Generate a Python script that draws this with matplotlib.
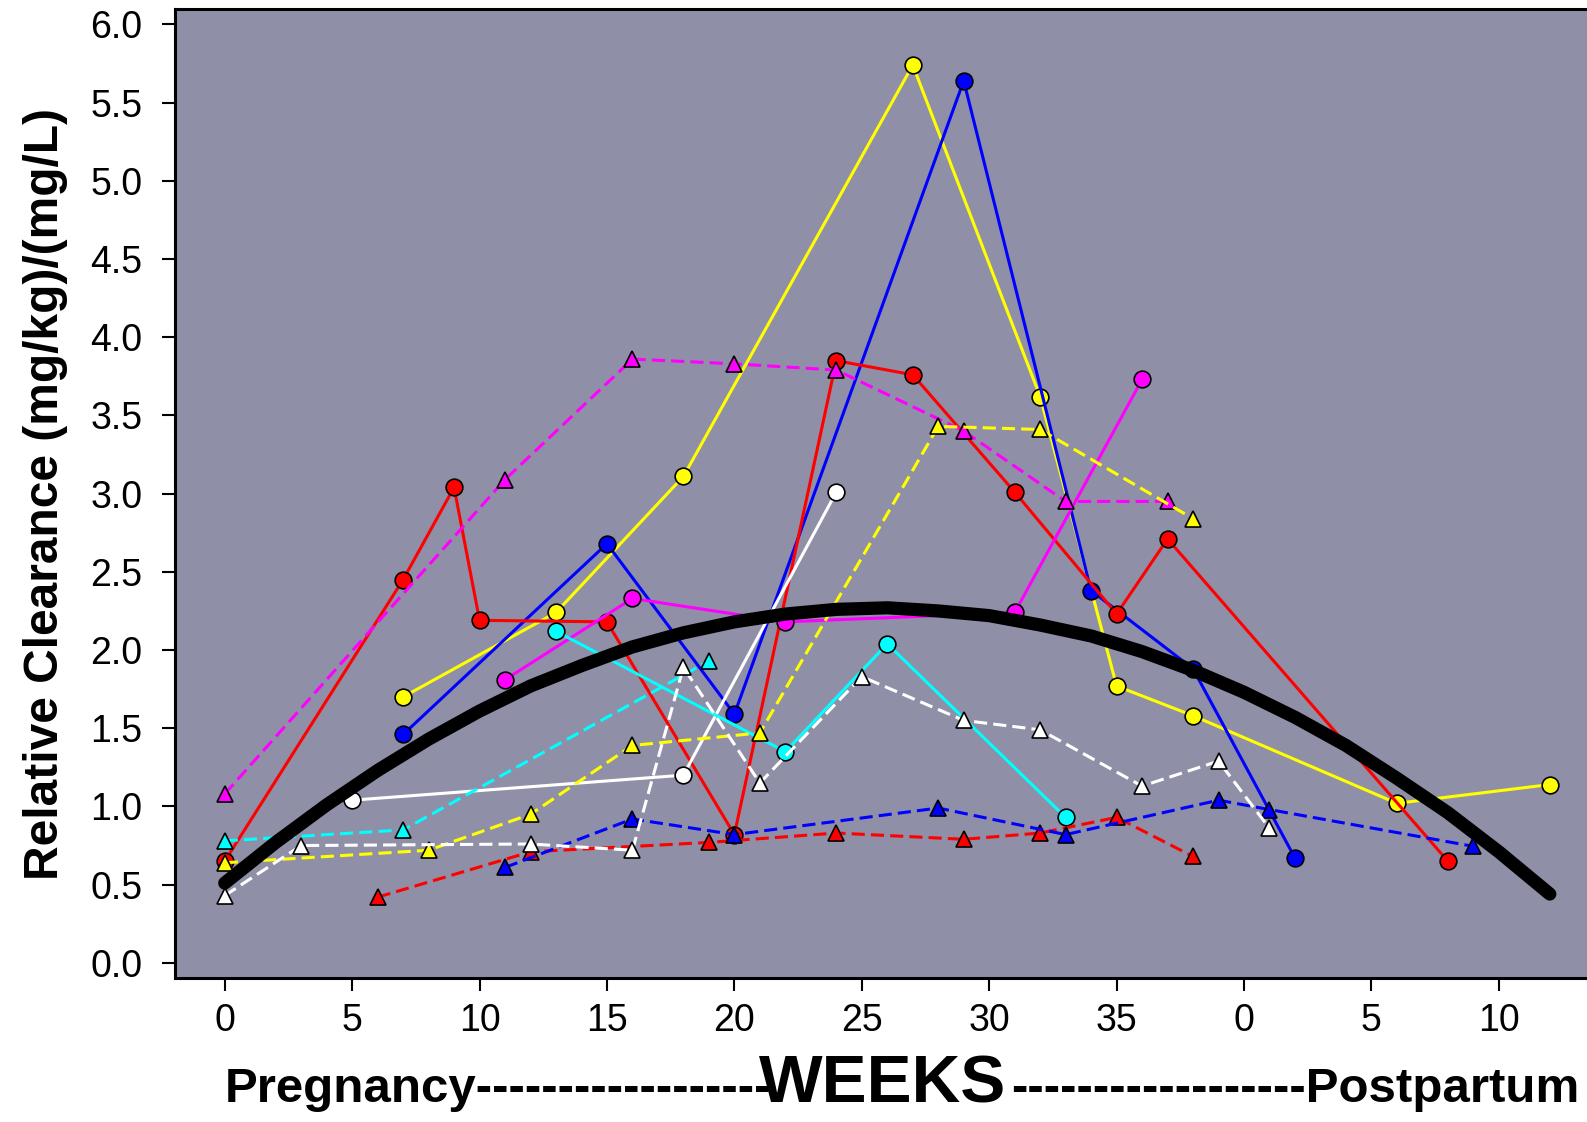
import matplotlib
matplotlib.use("Agg")
import matplotlib.pyplot as plt

plt.rcParams['font.family'] = ['Liberation Sans', 'DejaVu Sans']

# weeks: 0-38 pregnancy, 40+ = postpartum (0, 5, 10 ...)
yel_c_x = [7, 13, 18, 27, 32, 35, 38, 46, 52]
yel_c_y = [1.70, 2.24, 3.11, 5.74, 3.62, 1.77, 1.58, 1.02, 1.14]
blu_c_x = [7, 15, 20, 29, 34, 38, 42]
blu_c_y = [1.46, 2.68, 1.59, 5.64, 2.38, 1.88, 0.67]
red_c_x = [0, 7, 9, 10, 15, 20, 24, 27, 31, 35, 37, 48]
red_c_y = [0.65, 2.45, 3.04, 2.19, 2.18, 0.82, 3.85, 3.76, 3.01, 2.23, 2.71, 0.65]
mag_c_x = [11, 16, 22, 31, 36]
mag_c_y = [1.81, 2.33, 2.18, 2.24, 3.73]
wht_c_x = [5, 18, 24]
wht_c_y = [1.04, 1.20, 3.01]
cyn_c_x = [13, 22, 26, 33]
cyn_c_y = [2.12, 1.35, 2.04, 0.93]

red_t_x = [6, 12, 19, 24, 29, 32, 35, 38]
red_t_y = [0.42, 0.71, 0.77, 0.83, 0.79, 0.83, 0.93, 0.68]
blu_t_x = [11, 16, 20, 28, 33, 39, 41, 49]
blu_t_y = [0.61, 0.92, 0.82, 0.99, 0.82, 1.04, 0.98, 0.745]
mag_t_x = [0, 11, 16, 20, 24, 29, 33, 37]
mag_t_y = [1.08, 3.09, 3.86, 3.83, 3.79, 3.40, 2.95, 2.95]
yel_t_x = [0, 8, 12, 16, 21, 28, 32, 38]
yel_t_y = [0.64, 0.72, 0.95, 1.39, 1.47, 3.43, 3.41, 2.84]
cyn_t_x = [0, 7, 19]
cyn_t_y = [0.78, 0.85, 1.93]
wht_t_x = [0, 3, 12, 16, 18, 21, 25, 29, 32, 36, 39, 41]
wht_t_y = [0.43, 0.75, 0.76, 0.72, 1.89, 1.15, 1.83, 1.55, 1.49, 1.13, 1.29, 0.86]

# thick black trend curve, every 2 weeks
fit_x = [0, 2, 4, 6, 8, 10, 12, 14, 16, 18, 20, 22, 24, 26,
         28, 30, 32, 34, 36, 38, 40, 42, 44, 46, 48, 50, 52]
fit_y = [0.51, 0.77, 1.01, 1.23, 1.43, 1.61, 1.77, 1.90, 2.02, 2.11, 2.18, 2.23,
         2.26, 2.27, 2.25, 2.22, 2.16, 2.09, 1.99, 1.87, 1.73, 1.57, 1.39, 1.18,
         0.96, 0.71, 0.44]

xticks = [0, 5, 10, 15, 20, 25, 30, 35, 40, 45, 50]
xticklabels = ['0', '5', '10', '15', '20', '25', '30', '35', '0', '5', '10']
yticks = [0.0, 0.5, 1.0, 1.5, 2.0, 2.5, 3.0, 3.5, 4.0, 4.5, 5.0, 5.5, 6.0]

fig = plt.figure(figsize=(15.87, 11.22), dpi=100)
ax = fig.add_axes([0.1103, 0.1279, 0.8897, 0.8643])
ax.set_facecolor('#8f8fa7')

lw = 2.2
dash = (0, (4.3, 2.0))
circ = dict(marker='o', ms=12, mec='black', mew=1.2, lw=lw)
tri = dict(marker='^', ms=12, mec='black', mew=1.2, lw=lw, ls=dash)

ax.plot(yel_c_x, yel_c_y, color='#ffff00', mfc='#ffff00', **circ)
ax.plot(blu_c_x, blu_c_y, color='#0000ff', mfc='#0000ff', **circ)
ax.plot(red_c_x, red_c_y, color='#ff0000', mfc='#ff0000', **circ)
ax.plot(mag_c_x, mag_c_y, color='#ff00ff', mfc='#ff00ff', **circ)
ax.plot(wht_c_x, wht_c_y, color='white', mfc='white', **circ)
ax.plot(cyn_c_x, cyn_c_y, color='#00ffff', mfc='#00ffff', **circ)

ax.plot(red_t_x, red_t_y, color='#ff0000', mfc='#ff0000', **tri)
ax.plot(blu_t_x, blu_t_y, color='#0000ff', mfc='#0000ff', **tri)
ax.plot(mag_t_x, mag_t_y, color='#ff00ff', mfc='#ff00ff', **tri)
ax.plot(yel_t_x, yel_t_y, color='#ffff00', mfc='#ffff00', **tri)
ax.plot(cyn_t_x, cyn_t_y, color='#00ffff', mfc='#00ffff', **tri)
ax.plot(wht_t_x, wht_t_y, color='white', mfc='white', **tri)

ax.plot(fit_x, fit_y, color='black', lw=9.5, solid_capstyle='round',
        solid_joinstyle='round')

ax.set_xlim(-1.95, 53.46)
ax.set_ylim(-0.1, 6.1)
ax.set_xticks(xticks)
ax.set_xticklabels(xticklabels)
ax.set_yticks(yticks)
ax.set_yticklabels(['%.1f' % v for v in yticks])
ax.tick_params(axis='both', direction='out', length=9.5, width=1.5,
               labelsize=27, colors='black')
ax.tick_params(axis='y', pad=14)
ax.tick_params(axis='x', pad=8)
for side in ['left', 'bottom', 'top']:
    ax.spines[side].set_linewidth(2.2)
ax.spines['right'].set_visible(False)

ax.set_ylabel('Relative Clearance (mg/kg)/(mg/L)', fontsize=34.5,
              fontweight='bold', labelpad=16)

base = 0.0178
fig.text(225/1587, base, 'Pregnancy' + '-'*18, ha='left', va='baseline',
         fontsize=35.5, fontweight='bold')
fig.text(883/1587, base, 'WEEKS', ha='center', va='baseline',
         fontsize=48.5, fontweight='bold')
fig.text(1579/1587, base, '-'*18 + 'Postpartum', ha='right', va='baseline',
         fontsize=35.5, fontweight='bold')

fig.savefig('out.png', dpi=100)
